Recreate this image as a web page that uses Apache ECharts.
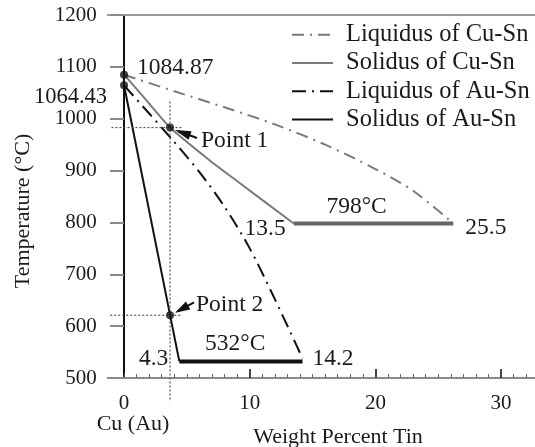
<!DOCTYPE html>
<html><head><meta charset="utf-8">
<script src="https://cdn.jsdelivr.net/npm/echarts@6/dist/echarts.min.js"></script>
<style>html,body{margin:0;padding:0;background:#fff}#c{width:535px;height:447px}</style>
</head><body><div id="c"></div>
<script>
// ---- data ----
const seriesNames = ['Liquidus of Cu-Sn','Solidus of Cu-Sn','Liquidus of Au-Sn','Solidus of Au-Sn'];
const cuLiquidus = [[0,1084.87],[4,1053],[8,1022],[12,989],[16,950],[20,903],[23,861],[26.2,798]];
const cuSolidus  = [[0,1084.87],[1.8,1035],[3.66,983],[6.8,920],[9.2,876],[13.5,798]];
const cuEutectic = [[13.5,798],[26.2,798]];
const auLiquidus = [[0,1064.43],[2,1010],[4,955],[6,897],[8,830],[10,750],[12,652],[14.2,538]];
const auSolidus  = [[0,1064.43],[4.4,532]];
const auEutectic = [[4.4,532],[14.2,532]];
const keyPoints  = [[0,1084.87],[0,1064.43],[3.66,983],[3.66,621]];
const guideV  = [[3.66,1033],[3.66,454]];
const guideH1 = [[-1,983],[4.7,983]];
const guideH2 = [[-1.1,621],[4.6,621]];
const xTickLabels = [0,10,20,30];
const xMajorTicks = [10,20,30];
const xMinorTicks = [0,1,2,3,4,5,6,7,8,9,10,11,12,13,14,15,16,17,18,19,20,21,22,23,24,25,26,27,28,29,30,31,32];
const yMin = 500, yMax = 1200, yStep = 100;
const xMin = -1.3, xMax = 32.7;

const FONT = "'Liberation Serif','Times New Roman',serif";
const TXT = '#1a1a1a';
const GREY = '#7a7a7a', BLACK = '#111';

const chart = echarts.init(document.getElementById('c'));
const lbl = {fontFamily:FONT, fontSize:21, color:TXT};
const noAxisExtras = {axisLabel:{show:false}, splitLine:{show:false}};
chart.setOption({
  animation:false,
  grid:{left:107.7, right:0, top:15, bottom:69, containLabel:false, outerBoundsMode:'none'},
  legend:{
    orient:'vertical', left:291, top:21, padding:0, itemWidth:41, itemHeight:14, itemGap:1,
    selectedMode:false, data:seriesNames, itemStyle:{opacity:0},
    textStyle:{fontFamily:FONT, fontSize:24.5, color:TXT, lineHeight:27.3, padding:[0,0,0,8]}
  },
  xAxis:[
    {type:'value', min:xMin, max:xMax, position:'bottom',
     axisLine:{onZero:false, lineStyle:{color:'#8a8a8a', width:2}},
     axisTick:{inside:true, length:4, customValues:xMinorTicks, lineStyle:{color:'#666', width:1}},
     axisLabel:Object.assign({customValues:xTickLabels, margin:15}, lbl),
     splitLine:{show:false}},
    Object.assign({type:'value', min:xMin, max:xMax, position:'bottom',
     axisLine:{show:false, onZero:false},
     axisTick:{inside:true, length:9, customValues:xMajorTicks, lineStyle:{color:'#444', width:2}}}, noAxisExtras),
    Object.assign({type:'value', min:xMin, max:xMax, position:'top',
     axisLine:{show:true, onZero:false, lineStyle:{color:'#9a9a9a', width:2}},
     axisTick:{show:false}}, noAxisExtras)
  ],
  yAxis:{type:'value', min:yMin, max:yMax, interval:yStep,
    axisLine:{onZero:true, onZeroAxisIndex:0, lineStyle:{color:'#111', width:2}},
    axisTick:{length:14, lineStyle:{color:'#8a8a8a', width:2}},
    axisLabel:Object.assign({margin:11, formatter:v => String(v)}, lbl),
    splitLine:{show:false}},
  series:[
    {name:seriesNames[0], type:'line', data:cuLiquidus, symbol:'none', smooth:0.3,
     lineStyle:{color:GREY, width:2, type:[12,6,2,6]}, itemStyle:{color:GREY}},
    {name:seriesNames[1], type:'line', data:cuSolidus, symbol:'none', smooth:0.2,
     lineStyle:{color:GREY, width:2}, itemStyle:{color:GREY}},
    {name:seriesNames[2], type:'line', data:auLiquidus, symbol:'none', smooth:0.3,
     lineStyle:{color:BLACK, width:2, type:[14,6,2,6]}, itemStyle:{color:BLACK}},
    {name:seriesNames[3], type:'line', data:auSolidus, symbol:'none',
     lineStyle:{color:BLACK, width:2}, itemStyle:{color:BLACK}},
    {type:'line', data:cuEutectic, symbol:'none', lineStyle:{color:'#666', width:4}},
    {type:'line', data:auEutectic, symbol:'none', lineStyle:{color:BLACK, width:4}},
    {type:'line', data:guideV, symbol:'none', clip:false, lineStyle:{color:'#555', width:1.2, type:[2,2]}},
    {type:'line', data:guideH1, symbol:'none', clip:false, lineStyle:{color:'#555', width:1.2, type:[2,2]}},
    {type:'line', data:guideH2, symbol:'none', clip:false, lineStyle:{color:'#555', width:1.2, type:[2,2]}},
    {type:'scatter', data:keyPoints, symbol:'circle', symbolSize:8, clip:false, itemStyle:{color:BLACK}, z:5}
  ]
});

const P = v => chart.convertToPixel({xAxisIndex:0, yAxisIndex:0}, v);
function txt(s, anchor, dx, dy, align, size){
  const p = P(anchor);
  return {type:'text', x:p[0]+dx, y:p[1]+dy, z:10,
    style:{text:s, font:(size||23.5)+'px '+FONT, fill:TXT, align:align, textAlign:align,
           verticalAlign:'middle', textVerticalAlign:'middle'}};
}
function arrow(anchor, tipOff, tailOff, head){
  const p = P(anchor);
  const tx = p[0]+tipOff[0], ty = p[1]+tipOff[1];
  const ex = p[0]+tailOff[0], ey = p[1]+tailOff[1];
  const L = Math.hypot(ex-tx, ey-ty), ux = (ex-tx)/L, uy = (ey-ty)/L;
  const bx = tx+ux*head, by = ty+uy*head, w = 4.5;
  return [
    {type:'line', z:10, shape:{x1:tx+ux*3, y1:ty+uy*3, x2:ex, y2:ey}, style:{stroke:BLACK, lineWidth:2}},
    {type:'polygon', z:10, shape:{points:[[tx,ty],[bx-uy*w,by+ux*w],[bx+uy*w,by-ux*w]]}, style:{fill:BLACK}}
  ];
}
chart.setOption({graphic:[
  txt('1084.87', keyPoints[0], 13, -7, 'left'),
  txt('1064.43', keyPoints[1], -17, 12, 'right', 22.5),
  txt('Point 1', keyPoints[2], 31, 13, 'left'),
  txt('Point 2', keyPoints[3], 26, -10, 'left'),
  txt('13.5', cuEutectic[0], -8, 5, 'right'),
  txt('798°C', [18.5,798], 0, -17, 'center'),
  txt('25.5', cuEutectic[1], 12, 4, 'left'),
  txt('4.3', auEutectic[0], -11, -3, 'right'),
  txt('532°C', [8.85,532], 0, -18, 'center'),
  txt('14.2', auEutectic[1], 10, -3, 'left'),
  {type:'text', x:133, y:424, style:{text:'Cu (Au)', font:'22px '+FONT, fill:TXT, align:'center', textAlign:'center', verticalAlign:'middle', textVerticalAlign:'middle'}},
  {type:'text', x:338, y:437, style:{text:'Weight Percent Tin', font:'22px '+FONT, fill:TXT, align:'center', textAlign:'center', verticalAlign:'middle', textVerticalAlign:'middle'}},
  {type:'text', x:23, y:211, rotation:Math.PI/2, style:{text:'Temperature (°C)', font:'22px '+FONT, fill:TXT, align:'center', textAlign:'center', verticalAlign:'middle', textVerticalAlign:'middle'}}
].concat(arrow(keyPoints[2], [5,2.5], [27,10.5], 16), arrow(keyPoints[3], [5,-2.5], [24,-13], 15))});
</script></body></html>
